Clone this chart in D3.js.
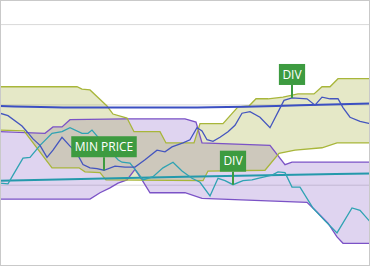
<!DOCTYPE html>
<html>
<head>
<meta charset="utf-8">
<script src="https://cdn.jsdelivr.net/npm/d3@7"></script>
<style>
html,body{margin:0;padding:0;background:#fff;}
svg{display:block;}
</style>
</head>
<body>
<svg id="chart" width="370" height="266"></svg>
<script>
// ---- DATA (x = trading day, y = price) ----
const greenUpperDays = [0,15.4,16.4,18,21.4,22.6,25.4,26.8,32,33.2,38.8,40,44.6,47.6,49.8,51.2,53.6,56.6,59.6,62.8,64.4,66,67.6,74];
const greenUpperVals = [52.2,52.2,51.9,51.8,49.8,48.8,48.3,46.6,46.6,45.2,45.2,47.6,47.6,49.7,49.8,50.7,50.7,50.9,51.3,51.3,52.2,52.2,53.2,53.2];
const greenLowerDays = [0,4.8,10.4,15.8,17,20,21.2,40.6,41.6,53,55.8,59,64.4,67.4,74];
const greenLowerVals = [46.8,46.7,42.1,42.1,41.6,41.5,40.6,40.5,41.7,41.8,43.9,44.3,44.6,45.2,45.2];
const purpleUpperDays = [0,9,10.6,12.4,14,25,37,39.2,40.4,54,57,58.4,74];
const purpleUpperVals = [46.6,46.4,47.2,47.2,48.1,48.2,48.2,47.8,45.2,44.9,42.5,42.8,42.8];
const purpleLowerDays = [0,18,20,22,23.6,25.4,27,28.4,30,37,40.4,61.4,63.4,65.6,67.4,68.6,74];
const purpleLowerVals = [38.2,38.2,39.0,39.6,40.2,40.6,41.9,40.6,39.0,39.0,38.3,37.8,36.6,35.2,33.5,32.7,32.7];

const blueDays = [0,1.6,4.4,5.4,6.6,8,9.4,10.6,12.4,14,15.2,16.6,18,19.4,20.8,23,25,27,29,31.4,33,34.4,36.6,38,39.4,40.4,41.4,42.6,44,45.6,47,48.4,50,52,54,56.8,58.4,61.4,63,64.4,66,67.6,68.6,70,72,74];
const blueVals = [48.9,48.6,47.3,46.6,45.7,44.9,43.4,44.3,45.9,44.8,44.1,42.5,42.1,42.0,41.8,42.3,42.2,42.2,43.1,44.3,44.1,44.7,45.2,45.6,47.1,46.7,45.6,45.4,45.9,46.6,47.4,48.9,49.1,48.4,47.1,50.5,50.8,50.7,49.9,50.9,50.7,50.7,49.6,48.4,47.9,47.6];
const tealDays = [0,1.6,2.6,4.6,6,8,10.4,12.4,14,16.4,17.6,18.4,21,23.6,24.4,26,27.4,28.6,30.6,32.6,34.6,36.4,38.4,40,42,43.6,45,46.6,48.6,50.4,51.6,54.4,55.6,57,58.4,60,62.6,65,67.4,70.4,72,74];
const tealVals = [40.2,40.1,41.2,43.3,43.4,44.9,46.4,46.6,47.1,46.4,46.4,46.8,44.9,43.1,42.8,42.7,41.6,40.6,41.0,42.1,42.8,41.7,40.8,40.3,38.6,40.8,40.5,40.0,40.5,40.6,40.8,41.2,41.6,41.5,39.7,39.7,37.1,35.5,34.0,37.1,36.8,35.4];

const blueTrendDays = [0,18,37,49,60,74];
const blueTrendVals = [49.8,49.6,49.6,49.7,49.9,50.1];
const tealTrendDays = [0,37,74];
const tealTrendVals = [40.5,41.0,41.4];

const gridTicks = [40,50,60];

const noteLabels = ["MIN PRICE","DIV","DIV"];
const noteDays = [20.8,58.4,46.6];
const noteSeries = ["blue","blue","teal"];

// ---- CHART ----
const svg = d3.select("#chart");
const x = d3.scaleLinear().domain([0,74]).range([0,370]);
const y = d3.scaleLinear().domain([30,63]).range([265,0]);

const zip = (d, v) => d.map((t,i)=>[t, v[i]]);
const line = d3.line().x(p=>x(p[0])).y(p=>y(p[1]));

// gridlines
svg.append("g")
  .attr("transform","translate(1,0)")
  .call(d3.axisLeft(y).tickValues(gridTicks).tickSize(-368).tickFormat(""))
  .call(g=>g.select(".domain").remove())
  .call(g=>g.selectAll("line").attr("stroke","#dadada").attr("stroke-width",1));

function band(upD, upV, loD, loV, fill, op, stroke){
  const up = zip(upD, upV), lo = zip(loD, loV);
  const poly = up.concat(lo.slice().reverse());
  svg.append("path").attr("d", line(poly)+"Z")
    .attr("fill", fill).attr("fill-opacity", op).attr("stroke","none");
  return [up, lo, stroke];
}
const pB = band(purpleUpperDays, purpleUpperVals, purpleLowerDays, purpleLowerVals, "#7a4cc0", 0.24, "#7b52c6");
const gB = band(greenUpperDays, greenUpperVals, greenLowerDays, greenLowerVals, "#9aa826", 0.26, "#a8b63a");
[pB, gB].forEach(b=>{
  [b[0], b[1]].forEach(pts=>{
    svg.append("path").attr("d", line(pts)).attr("fill","none")
      .attr("stroke", b[2]).attr("stroke-width",1.3);
  });
});

// trend lines
svg.append("path").attr("d", line.curve(d3.curveMonotoneX)(zip(blueTrendDays, blueTrendVals)))
  .attr("fill","none").attr("stroke","#3b4fc2").attr("stroke-width",2);
svg.append("path").attr("d", line(zip(tealTrendDays, tealTrendVals)))
  .attr("fill","none").attr("stroke","#2499ab").attr("stroke-width",2);
line.curve(d3.curveLinear);

// price lines
svg.append("path").attr("d", line(zip(tealDays, tealVals)))
  .attr("fill","none").attr("stroke","#2fa3b3").attr("stroke-width",1.3);
svg.append("path").attr("d", line(zip(blueDays, blueVals)))
  .attr("fill","none").attr("stroke","#4455bf").attr("stroke-width",1.3);

// annotations
const seriesMap = {blue: [blueDays, blueVals], teal: [tealDays, tealVals]};
noteLabels.forEach((lab,i)=>{
  const [ds, vs] = seriesMap[noteSeries[i]];
  const k = ds.indexOf(noteDays[i]);
  const px = x(noteDays[i]), py = y(vs[k]);
  const g = svg.append("g");
  const boxBottom = py - 13, boxH = 21;
  const t = g.append("text").text(lab)
    .attr("font-family","'Open Sans', 'Noto Sans', sans-serif")
    .attr("font-size", 12).attr("fill","#fff")
    .attr("text-anchor","middle")
    .attr("x", px).attr("y", boxBottom - boxH/2 + 4.3);
  const tw = t.node().getComputedTextLength();
  g.insert("rect","text")
    .attr("x", px - tw/2 - 3.5).attr("y", boxBottom - boxH)
    .attr("width", tw + 7).attr("height", boxH)
    .attr("fill","#3d9b40");
  g.insert("line","text")
    .attr("x1", px).attr("x2", px).attr("y1", boxBottom).attr("y2", py)
    .attr("stroke","#3d9b40").attr("stroke-width",2);
});

// frame
svg.append("rect").attr("x",0.5).attr("y",0.5).attr("width",369).attr("height",265)
  .attr("fill","none").attr("stroke","#c9c9c9").attr("stroke-width",1);
</script>
</body>
</html>
